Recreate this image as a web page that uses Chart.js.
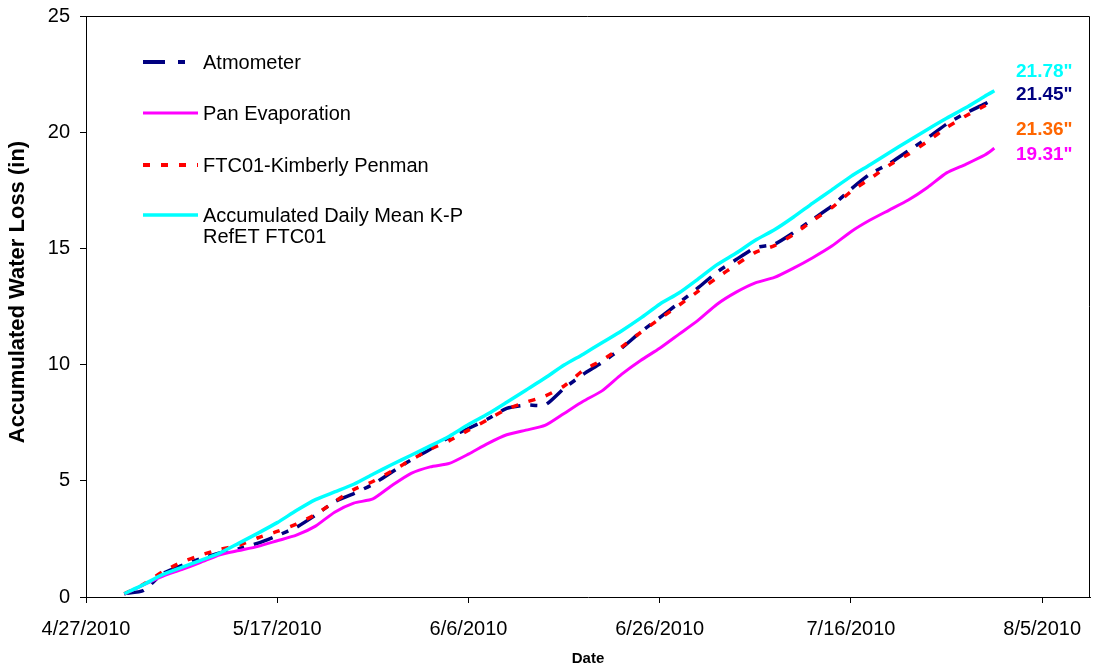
<!DOCTYPE html>
<html><head><meta charset="utf-8">
<script src="https://cdn.jsdelivr.net/npm/chart.js@4.4.0/dist/chart.umd.min.js"></script>
<style>html,body{margin:0;padding:0;background:#fff;}</style>
</head><body>
<canvas id="c" width="1093" height="669"></canvas>
<script>
// Day offsets from 4/27/2010
const baseDate = Date.UTC(2010, 3, 27);
const days = [4,6,8,10,12,14,16,18,20,22,24,26,28,30,32,34,36,38,40,42,44,46,48,50,52,54,56,58,60,62,64,66,68,70,72,74,76,78,80,82,84,86,88,90,92,94,95];
const atmometer = [0.14,0.28,1.0,1.35,1.65,1.9,2.08,2.32,2.64,3.0,3.52,4.1,4.45,4.85,5.38,5.9,6.36,6.88,7.25,7.66,8.12,8.26,8.26,8.98,9.58,10.1,10.7,11.4,12.02,12.65,13.3,13.98,14.52,15.03,15.18,15.68,16.25,16.82,17.55,18.2,18.65,19.2,19.75,20.35,20.82,21.22,21.45];
const panEvaporation = [0.12,0.52,0.89,1.18,1.49,1.82,2.0,2.18,2.42,2.66,3.05,3.65,4.04,4.22,4.8,5.32,5.6,5.75,6.15,6.6,6.98,7.18,7.38,7.9,8.42,8.88,9.58,10.18,10.7,11.3,11.9,12.6,13.12,13.52,13.75,14.15,14.6,15.1,15.72,16.22,16.65,17.08,17.62,18.25,18.62,19.02,19.31];
const kimberlyPenman = [0.14,0.55,1.08,1.5,1.8,2.05,2.22,2.55,2.82,3.14,3.55,4.1,4.62,4.97,5.42,5.9,6.36,6.73,7.18,7.63,8.08,8.38,8.64,9.08,9.75,10.2,10.75,11.38,11.97,12.55,13.15,13.74,14.3,14.83,15.12,15.6,16.2,16.75,17.45,18.0,18.58,19.05,19.6,20.2,20.7,21.14,21.36];
const dailyMeanKP = [0.14,0.53,0.96,1.27,1.58,1.89,2.32,2.75,3.2,3.72,4.19,4.52,4.85,5.28,5.7,6.1,6.5,6.92,7.42,7.87,8.38,8.9,9.42,9.98,10.45,10.95,11.45,12.0,12.6,13.08,13.68,14.3,14.8,15.35,15.8,16.35,16.95,17.52,18.1,18.6,19.12,19.62,20.12,20.6,21.05,21.55,21.78];
const seriesNames = ['Atmometer', 'Pan Evaporation', 'FTC01-Kimberly Penman', 'Accumulated Daily Mean K-P\nRefET FTC01'];
const xTickDays = [0, 20, 40, 60, 80, 100];
const totalLabels = ['21.78"', '21.45"', '21.36"', '19.31"'];
const yTitle = 'Accumulated Water Loss (in)';

const FONT = '"Liberation Sans", Arial, sans-serif';
Chart.defaults.font.family = FONT;
Chart.defaults.color = '#000';

function fmtDay(v) {
  const d = new Date(baseDate + v * 86400000);
  return (d.getUTCMonth() + 1) + '/' + d.getUTCDate() + '/' + d.getUTCFullYear();
}
const pts = arr => days.map((d, i) => ({x: d, y: arr[i]}));

const styles = [
  {color: '#000080', width: 3.5, dash: [20, 10, 7, 10], legendDash: [22, 13, 7, 13], lw: 4, order: 3},
  {color: '#FF00FF', width: 3, dash: [], legendDash: [], lw: 3, order: 2},
  {color: '#FF0000', width: 3.5, dash: [7, 11], legendDash: [7, 11], lw: 4, order: 1},
  {color: '#00FFFF', width: 3.5, dash: [], legendDash: [], lw: 3.5, order: 0}
];
const seriesData = [atmometer, panEvaporation, kimberlyPenman, dailyMeanKP];

const frameLegendPlugin = {
  id: 'frameLegend',
  afterDraw(chart) {
    const ctx = chart.ctx, a = chart.chartArea;
    ctx.save();
    // plot frame (top/right)
    ctx.strokeStyle = '#000'; ctx.lineWidth = 1;
    ctx.beginPath();
    ctx.moveTo(a.left, a.top + 0.5); ctx.lineTo(a.right - 0.5, a.top + 0.5); ctx.lineTo(a.right - 0.5, a.bottom);
    ctx.stroke();
    // y axis title
    ctx.save();
    ctx.translate(18, 292);
    ctx.rotate(-Math.PI / 2);
    ctx.font = 'bold 22px ' + FONT;
    ctx.textAlign = 'center'; ctx.textBaseline = 'middle'; ctx.fillStyle = '#000';
    ctx.fillText(yTitle, 0, 0);
    ctx.restore();
    // legend
    const rowY = [46, 97, 149, 199];
    ctx.font = '20px ' + FONT;
    ctx.textBaseline = 'middle';
    ctx.textAlign = 'left';
    seriesNames.forEach((name, i) => {
      const s = styles[i];
      const y = a.top + rowY[i];
      ctx.strokeStyle = s.color; ctx.lineWidth = s.lw; ctx.setLineDash(s.legendDash);
      ctx.lineCap = 'butt';
      ctx.beginPath(); ctx.moveTo(a.left + 57, y); ctx.lineTo(a.left + 112, y); ctx.stroke();
      ctx.setLineDash([]);
      ctx.fillStyle = '#000';
      name.split('\n').forEach((ln, j) => ctx.fillText(ln, a.left + 117, y + 1 + j * 21));
    });
    // end totals
    const totalColors = ['#00FFFF', '#000080', '#FF6600', '#FF00FF'];
    const totalY = [56, 79, 114, 139];
    ctx.font = 'bold 19px ' + FONT;
    totalLabels.forEach((t, i) => {
      ctx.fillStyle = totalColors[i];
      ctx.fillText(t, a.left + 930, a.top + totalY[i]);
    });
    ctx.restore();
  }
};

new Chart(document.getElementById('c'), {
  type: 'line',
  data: {
    datasets: seriesData.map((arr, i) => ({
      label: seriesNames[i],
      data: pts(arr),
      borderColor: styles[i].color,
      borderWidth: styles[i].width,
      borderDash: styles[i].dash,
      borderCapStyle: 'butt',
      pointRadius: 0,
      fill: false,
      tension: 0.2,
      order: styles[i].order
    }))
  },
  options: {
    responsive: false,
    devicePixelRatio: 1,
    animation: false,
    layout: {padding: {top: 16, right: 3, left: 0, bottom: 0}},
    plugins: {legend: {display: false}, tooltip: {enabled: false}},
    scales: {
      x: {
        type: 'linear', min: 0, max: 105,
        afterFit: s => { s.height = 72; s.paddingRight = 0; s.paddingLeft = 0; },
        afterBuildTicks: s => { s.ticks = xTickDays.map(v => ({value: v})); },
        ticks: {stepSize: 20, includeBounds: false, autoSkip: false, maxRotation: 0, padding: 14,
          font: {size: 20}, color: '#000', callback: v => fmtDay(v)},
        grid: {drawOnChartArea: false, drawTicks: true, tickLength: 6, color: '#000'},
        border: {color: '#000', width: 1},
        title: {display: true, text: 'Date', color: '#000', font: {size: 15, weight: 'bold'}, padding: {top: 0, bottom: 1}}
      },
      y: {
        min: 0, max: 25,
        afterFit: s => { s.width = 86; s.paddingTop = 0; s.paddingBottom = 0; },
        ticks: {stepSize: 5, padding: 10, font: {size: 20}, color: '#000'},
        grid: {drawOnChartArea: false, drawTicks: true, tickLength: 6, color: '#000'},
        border: {color: '#000', width: 1},
        title: {display: false}
      }
    }
  },
  plugins: [frameLegendPlugin]
});
</script>
</body></html>
